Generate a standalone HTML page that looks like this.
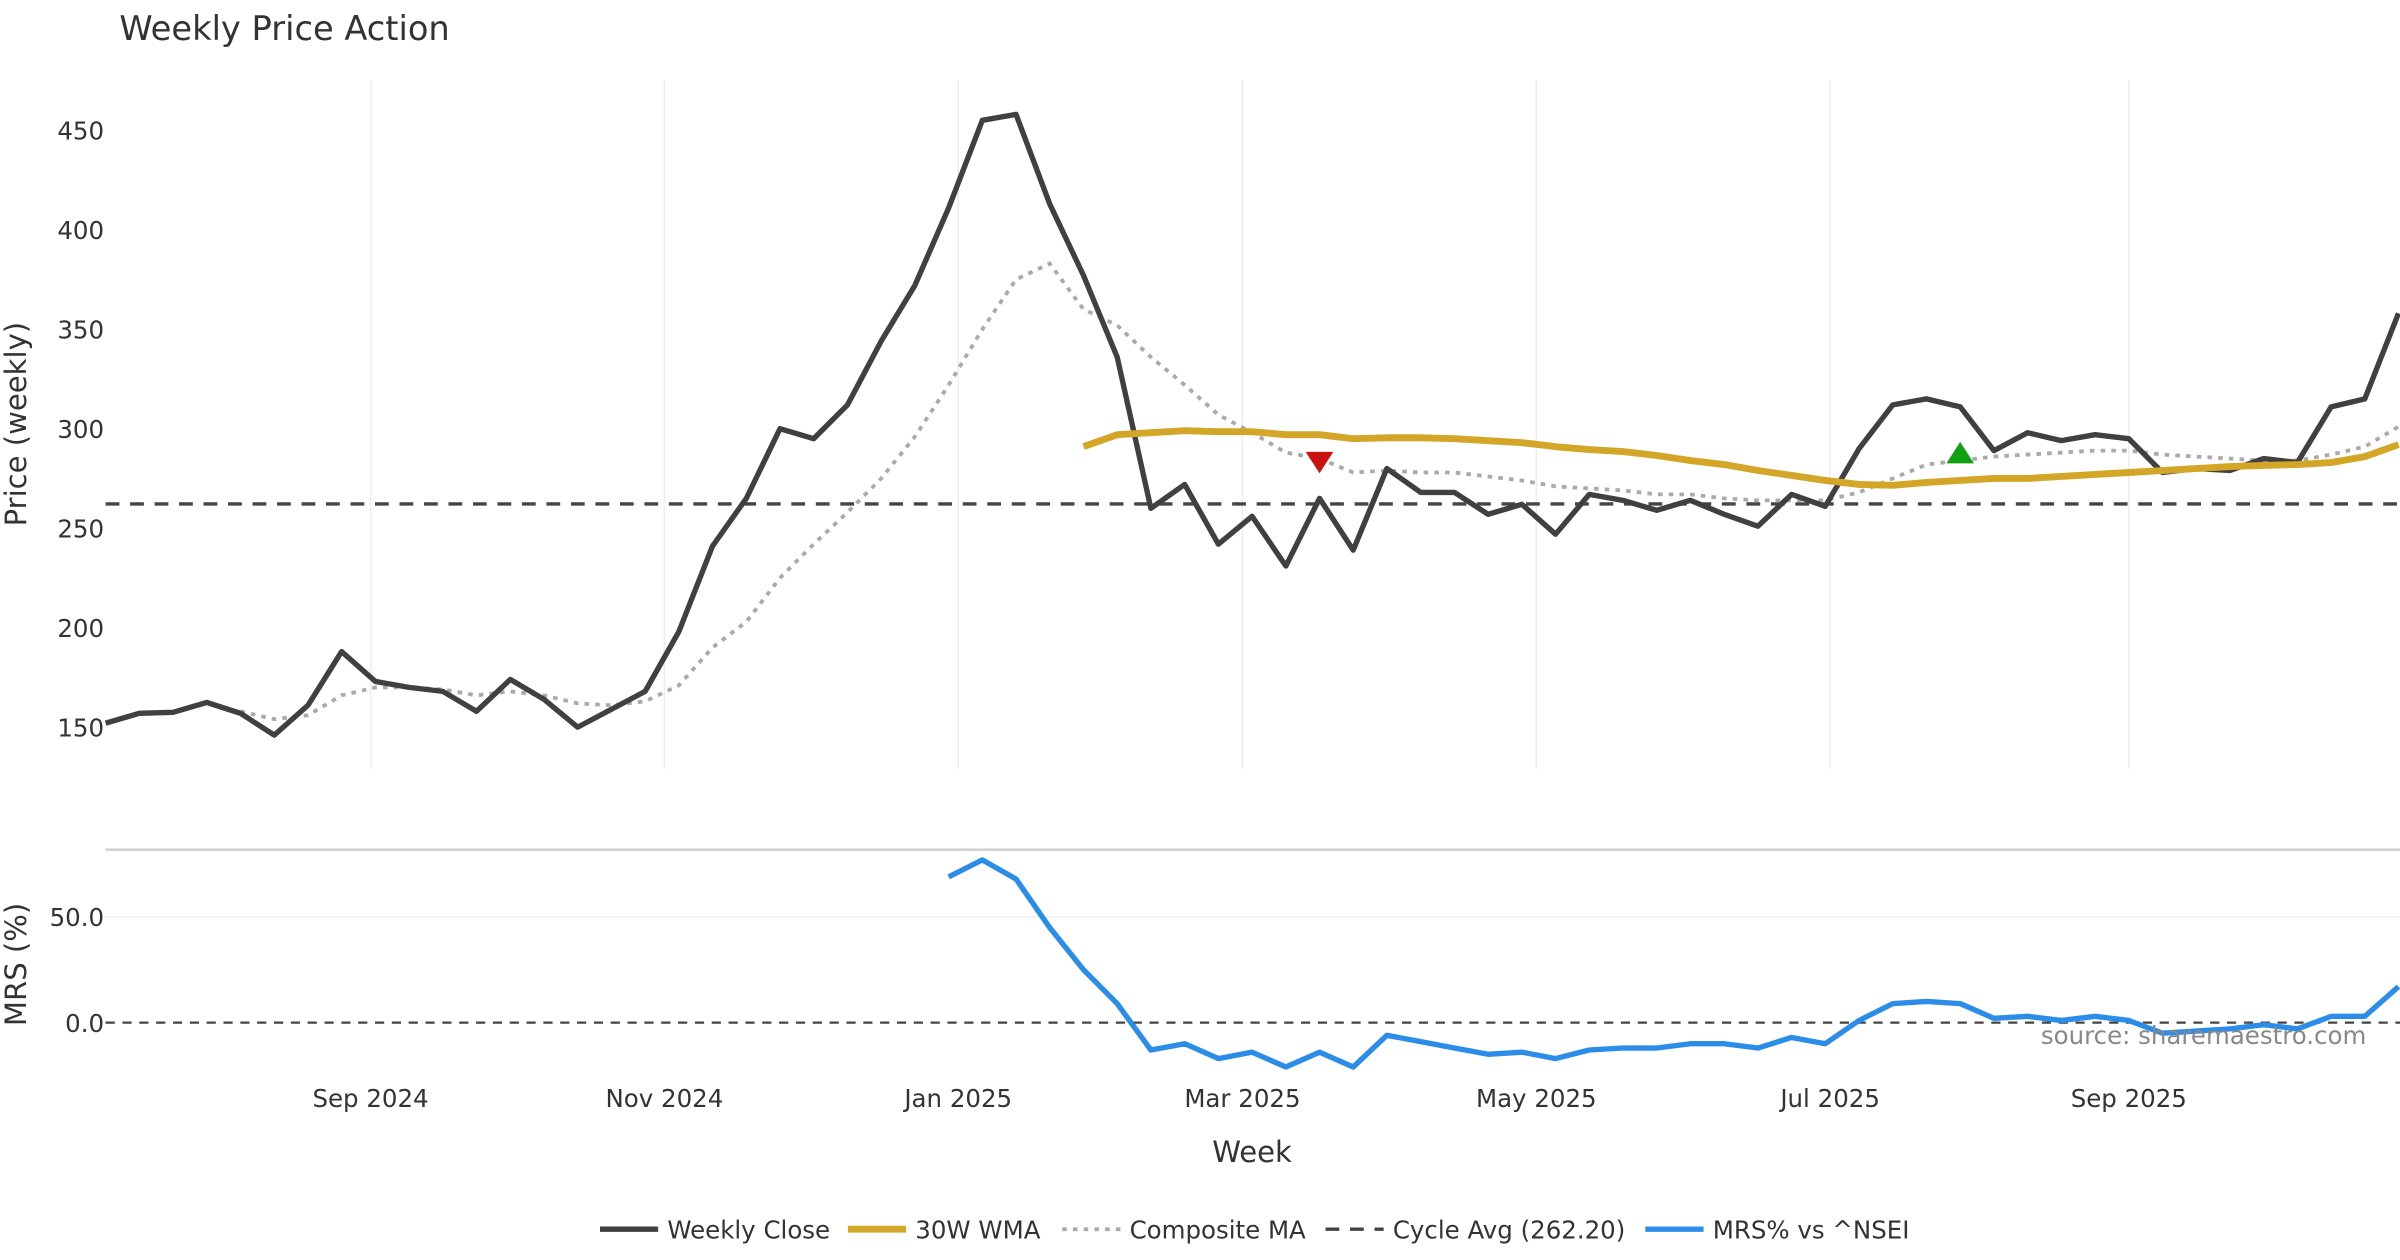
<!DOCTYPE html>
<html><head><meta charset="utf-8"><style>
html,body{margin:0;padding:0;background:#fff;}
svg{display:block;font-family:"DejaVu Sans","Liberation Sans",sans-serif;}
</style></head><body>
<svg id="chart" width="2400" height="1260" viewBox="0 0 1568 823" xmlns="http://www.w3.org/2000/svg">
<text x="78" y="26" font-size="22" fill="#333">Weekly Price Action</text>
<g id="grid"></g><g id="series"></g><g id="axes"></g>
</svg>
<script>
const startDate = "2024-07-08";
const weeklyClose = [152,157,157.5,162.5,157,146,161,188,173,170,168,158,174,164,150,159,168,198,241,265,300,295,312,344,372,411,455,458,413,377,336,260,272,242,256,231,265,239,280,268,268,257,262,247,267,264,259,264,257,251,267,261,290,312,315,311,289,298,294,297,295,278,280,279,285,283,311,315,358];
const wmaStart = 29;
const wma30 = [291,297,298,299,298.5,298.5,297,297,295,295.5,295.5,295,294,293,291,289.5,288.5,286.5,284,282,279,276.5,274,272,271.5,273,274,275,275,276,277,278,279,280,281,281.5,282,283,286,292];
const compStart = 4;
const compositeMA = [158,154,156,166,170,170,169,166,168,166,162,161,163,171,190,203,225,242,258,275,296,322,350,375,383,360,352,336,322,307,298,288,285,278,279,278,278,276,274,271,270,269,267,267,265,264,264,264,268,275,282,284,286,287,288,289,289,287,286,285,284,284,287,291,301];
const cycleAvg = 262.2;
const mrsStart = 25;
const mrs = [69,77,68,45,25,9,-13,-10,-17,-14,-21,-14,-21,-6,-9,-12,-15,-14,-17,-13,-12,-12,-10,-10,-12,-7,-10,1,9,10,9,2,3,1,3,1,-5,-4,-3,-1,-3,3,3,17];
const sellSignal = {i:36, v:283};
const buySignal = {i:55, v:288};
const priceTicks = [150,200,250,300,350,400,450];
const mrsTicks = [0,50];
const xTickDates = ["2024-09-01","2024-11-01","2025-01-01","2025-03-01","2025-05-01","2025-07-01","2025-09-01"];
const xTickLabels = ["Sep 2024","Nov 2024","Jan 2025","Mar 2025","May 2025","Jul 2025","Sep 2025"];

const NS="http://www.w3.org/2000/svg";
const X0=69, WEEK=22.03;
const xi = i => X0 + i*WEEK;
const xd = d => X0 + (new Date(d) - new Date(startDate))/86400000*WEEK/7;
const yp = v => 475 - (v-150)*1.3;
const ym = v => 668 - v*1.38;
function el(tag, attrs, parent, txt){const e=document.createElementNS(NS,tag);for(const k in attrs)e.setAttribute(k,attrs[k]);if(txt!==undefined)e.textContent=txt;document.getElementById(parent).appendChild(e);return e;}
function pts(arr, off, yf){return arr.map((v,k)=>xi(k+off).toFixed(1)+","+yf(v).toFixed(1)).join(" ");}

xTickDates.forEach((d,k)=>{
  const g=el('line',{x1:xd(d),x2:xd(d),y1:52,y2:502,stroke:'#ebedf0','stroke-width':1},'grid');
  
  
  const t=el('text',{x:xd(d),y:723,'font-size':16,fill:'#333','text-anchor':'middle'},'axes',xTickLabels[k]);
  
  
});
priceTicks.forEach(v=>{
  const t=el('text',{x:68,y:yp(v)+6,'font-size':16,fill:'#333','text-anchor':'end'},'axes',String(v));
  
  
});
mrsTicks.forEach(v=>{
  const t=el('text',{x:68,y:ym(v)+6,'font-size':16,fill:'#333','text-anchor':'end'},'axes',v.toFixed(1));
  
  
  if(v!==0){const g=el('line',{x1:69,x2:1568,y1:ym(v),y2:ym(v),stroke:'#eef0f2','stroke-width':1},'grid');
  
  }
});
let s=el('line',{x1:69,x2:1568,y1:555,y2:555,stroke:'#ccc','stroke-width':1.5},'grid');



let c=el('line',{x1:69,x2:1568,y1:yp(cycleAvg),y2:yp(cycleAvg),stroke:'#444','stroke-width':2.2,'stroke-dasharray':'9,7'},'series');


let z=el('line',{x1:69,x2:1568,y1:ym(0),y2:ym(0),stroke:'#444','stroke-width':1.5,'stroke-dasharray':'6,5'},'series');


let cm=el('polyline',{points:pts(compositeMA,compStart,yp),fill:'none',stroke:'#aaa','stroke-width':2.5,'stroke-dasharray':'3,4'},'series');


let wc=el('polyline',{points:pts(weeklyClose,0,yp),fill:'none',stroke:'#404040','stroke-width':3.5,'stroke-linejoin':'round'},'series');


let wm=el('polyline',{points:pts(wma30,wmaStart,yp),fill:'none',stroke:'#d4a628','stroke-width':4.5,'stroke-linejoin':'round'},'series');


let mr=el('polyline',{points:pts(mrs,mrsStart,ym),fill:'none',stroke:'#2b8de8','stroke-width':3.5,'stroke-linejoin':'round'},'series');


{const x=xi(sellSignal.i),y=yp(sellSignal.v);
const m=el('polygon',{points:`${x-9},${y-7} ${x+9},${y-7} ${x},${y+7}`,fill:'#cc1111'},'series');

}
{const x=xi(buySignal.i),y=yp(buySignal.v);
const m=el('polygon',{points:`${x-9},${y+7} ${x+9},${y+7} ${x},${y-7}`,fill:'#11a011'},'series');

}

let t1=el('text',{x:0,y:0,'font-size':19,fill:'#333','text-anchor':'middle',transform:'translate(17,277) rotate(-90)'},'axes','Price (weekly)');


let t2=el('text',{x:0,y:0,'font-size':19,fill:'#333','text-anchor':'middle',transform:'translate(17,630) rotate(-90)'},'axes','MRS (%)');


let t3=el('text',{x:818,y:759,'font-size':19,fill:'#333','text-anchor':'middle'},'axes','Week');


let t4=el('text',{x:1546,y:682,'font-size':16,fill:'#888','text-anchor':'end'},'axes','source: sharemaestro.com');



const legendLabels=["Weekly Close","30W WMA","Composite MA","Cycle Avg (262.20)","MRS% vs ^NSEI"];
const legendX=[392,554,694,866,1075];
const legendStyle=[{stroke:'#404040',w:3.5,d:''},{stroke:'#d4a628',w:4.5,d:''},{stroke:'#aaa',w:2.5,d:'3,4'},{stroke:'#444',w:2.2,d:'9,7'},{stroke:'#2b8de8',w:3.5,d:''}];
legendLabels.forEach((lab,k)=>{
  const st=legendStyle[k];
  const l=el('line',{x1:legendX[k],x2:legendX[k]+38,y1:803,y2:803,stroke:st.stroke,'stroke-width':st.w,'stroke-dasharray':st.d},'axes');
  
  
  const t=el('text',{x:legendX[k]+44,y:809,'font-size':16,fill:'#333'},'axes',lab);
  
  
});
</script>
</body></html>
